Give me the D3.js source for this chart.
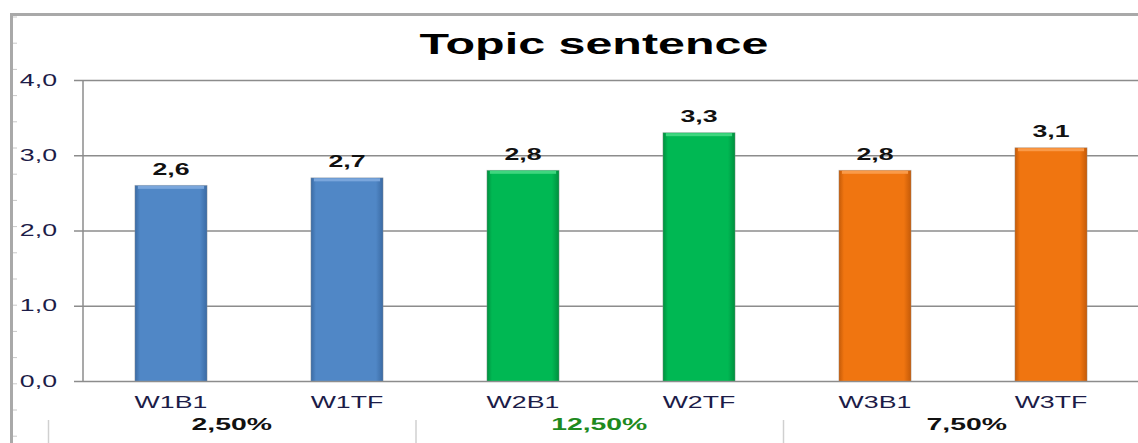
<!DOCTYPE html>
<html>
<head>
<meta charset="utf-8">
<script src="https://cdn.jsdelivr.net/npm/d3@7"></script>
<style>
  body { margin: 0; background: #fff; }
  svg { display: block; font-family: Arial, "Liberation Sans", sans-serif; }
</style>
</head>
<body>
<svg id="chart" width="1138" height="443"></svg>
<script>
const categories = ["W1B1", "W1TF", "W2B1", "W2TF", "W3B1", "W3TF"];
const values = [2.6, 2.7, 2.8, 3.3, 2.8, 3.1];
const barGroups = ["w1", "w1", "w2", "w2", "w3", "w3"];
const groups = ["w1", "w2", "w3"];
const groupLabels = ["2,50%", "12,50%", "7,50%"];
const yTicks = [0, 1, 2, 3, 4];

const svg = d3.select("#chart");
const width = +svg.attr("width");
const height = +svg.attr("height");

const margin = { top: 80, right: 0, bottom: 62, left: 83 };
// the original picture is stretched sideways, text included
const stretch = 1.67;

const colors = {
  w1: { base: "#5087c6", dark: "#3a6aa3", light: "#7aa6dc" },
  w2: { base: "#00b853", dark: "#008f3e", light: "#3fd67f" },
  w3: { base: "#f07510", dark: "#c45a08", light: "#fa9a48" }
};
const groupTextColor = { w1: "#111", w2: "#1e8a1e", w3: "#111" };

const x = d3.scaleBand()
  .domain(categories)
  .range([margin.left, margin.left + 6 * 176])
  .paddingInner(0.59)
  .paddingOuter(0.295);

const y = d3.scaleLinear()
  .domain([0, 4])
  .range([height - margin.bottom, margin.top]);

const fmt = d => d3.format(".1f")(d).replace(".", ",");

// places a sideways-stretched text at (px, py)
function wideText(parent, px, py, str) {
  return parent.append("text")
    .attr("x", px / stretch)
    .attr("y", py)
    .attr("transform", `scale(${stretch},1)`)
    .text(str);
}

// outer frame
svg.append("line")
  .attr("x1", 11.5).attr("x2", width)
  .attr("y1", 14.5).attr("y2", 14.5)
  .attr("stroke", "#a9a9a9").attr("stroke-width", 3);
svg.append("line")
  .attr("x1", 11.5).attr("x2", 11.5)
  .attr("y1", 13).attr("y2", height)
  .attr("stroke", "#a9a9a9").attr("stroke-width", 3);

// small ruler ticks on the frame
d3.range(17, height, 26.2).forEach(t => {
  svg.append("line")
    .attr("x1", 13).attr("x2", 17)
    .attr("y1", t).attr("y2", t)
    .attr("stroke", "#c8c8c8").attr("stroke-width", 1);
});

// title
wideText(svg, 594, 54, "Topic sentence")
  .attr("text-anchor", "middle")
  .style("font-size", "29px")
  .style("font-weight", "bold")
  .style("fill", "#000");

// gradients for the bevelled bars
const defs = svg.append("defs");
groups.forEach(k => {
  const grad = defs.append("linearGradient")
    .attr("id", `grad-${k}`)
    .attr("x1", "0").attr("x2", "1").attr("y1", "0").attr("y2", "0");
  grad.append("stop").attr("offset", "0%").attr("stop-color", colors[k].dark);
  grad.append("stop").attr("offset", "7%").attr("stop-color", colors[k].base);
  grad.append("stop").attr("offset", "90%").attr("stop-color", colors[k].base);
  grad.append("stop").attr("offset", "100%").attr("stop-color", colors[k].dark);
});

// y axis with gridlines
const yAxis = svg.append("g")
  .attr("transform", `translate(${margin.left}, 0)`)
  .call(d3.axisLeft(y)
    .tickValues(yTicks)
    .tickSize(-(width - margin.left))
    .tickFormat(fmt));
yAxis.select(".domain").remove();
yAxis.selectAll(".tick line")
  .attr("x1", -9)
  .attr("stroke", "#8c8c8c")
  .attr("stroke-width", 1.5);
yAxis.selectAll(".tick text")
  .attr("x", -26 / stretch)
  .attr("dy", "0.32em")
  .attr("transform", `scale(${stretch},1)`)
  .attr("font-size", null)
  .style("font-size", "16px")
  .style("fill", "#1c1c48");

svg.append("line")
  .attr("x1", margin.left).attr("x2", margin.left)
  .attr("y1", y(4)).attr("y2", y(0))
  .attr("stroke", "#8c8c8c").attr("stroke-width", 1.5);

// bars
const bars = svg.append("g");
categories.forEach((c, i) => {
  const k = barGroups[i];
  const bx = x(c);
  const bw = x.bandwidth();
  const by = y(values[i]);
  bars.append("rect")
    .attr("x", bx)
    .attr("y", by)
    .attr("width", bw)
    .attr("height", y(0) - by)
    .attr("fill", `url(#grad-${k})`)
    .attr("stroke", "#9a9a9a")
    .attr("stroke-opacity", 0.5)
    .attr("stroke-width", 0.8);
  bars.append("rect")
    .attr("x", bx + 3)
    .attr("y", by + 0.5)
    .attr("width", bw - 6)
    .attr("height", 3)
    .attr("fill", colors[k].light);
  wideText(bars, bx + bw / 2, by - 10.5, fmt(values[i]))
    .attr("text-anchor", "middle")
    .style("font-size", "16px")
    .style("font-weight", "bold")
    .style("fill", "#111");
});

// category labels
const xAxis = svg.append("g")
  .attr("transform", `translate(0, ${y(0)})`)
  .call(d3.axisBottom(x).tickSize(0).tickPadding(12));
xAxis.select(".domain").remove();
xAxis.selectAll(".tick").each(function() {
  const t = d3.select(this);
  const tx = x(t.datum()) + x.bandwidth() / 2;
  t.attr("transform", null);
  t.select("text")
    .attr("x", tx / stretch)
    .attr("y", 27)
    .attr("dy", null)
    .attr("transform", `scale(${stretch},1)`)
    .attr("font-size", null)
    .style("font-size", "16px")
    .style("fill", "#1c1c48");
});

// group labels row
const gx = d3.scaleBand()
  .domain(groups)
  .range([48, 48 + 3 * 367.5]);

groups.forEach((k, i) => {
  svg.append("line")
    .attr("x1", gx(k) + 0.5).attr("x2", gx(k) + 0.5)
    .attr("y1", 420).attr("y2", height)
    .attr("stroke", "#d0d0d0").attr("stroke-width", 1.5);
  wideText(svg, gx(k) + gx.bandwidth() / 2, 430, groupLabels[i])
    .attr("text-anchor", "middle")
    .style("font-size", "17px")
    .style("font-weight", "bold")
    .style("fill", groupTextColor[k]);
});
</script>
</body>
</html>
